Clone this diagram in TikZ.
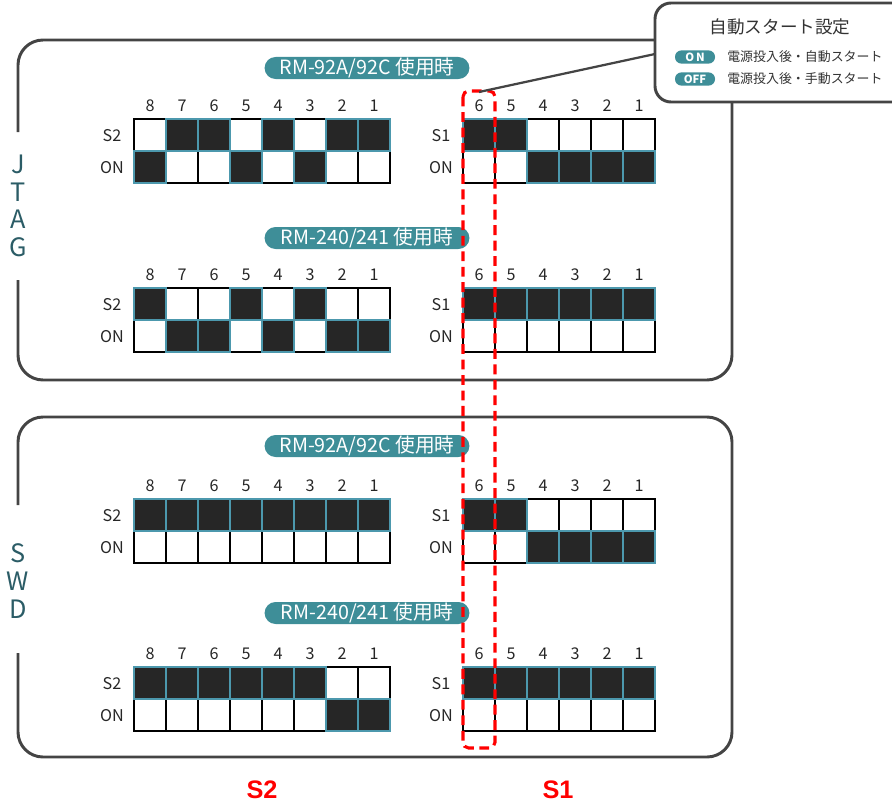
\documentclass[tikz,border=0pt]{standalone}
\usepackage{fontspec}
\setmainfont{Noto Sans CJK JP}
\newfontfamily\swfont{Liberation Sans}

\definecolor{pillteal}{HTML}{3E8E98}
\definecolor{celledge}{HTML}{4C98AD}
\definecolor{cellfill}{HTML}{262626}
\definecolor{frame}{HTML}{444444}
\definecolor{ifteal}{HTML}{2B5C66}

\tikzset{
  pill/.style={fill=pillteal, text=white, rounded corners=0.275cm,
    minimum width=5.12cm, minimum height=0.55cm, inner sep=0pt,
    font=\fontsize{14}{15}\selectfont},
  minipill/.style={fill=pillteal, text=white, rounded corners=0.16cm,
    minimum width=1cm, minimum height=0.33cm, inner sep=0pt,
    font=\fontsize{8}{9}\selectfont\bfseries},
  swnum/.style={text=black!85, font=\fontsize{11.5}{13}\selectfont},
  lightcell/.style={draw=black, line width=1.6pt, fill=white},
  darkcell/.style={draw=celledge, line width=1.6pt, fill=cellfill},
  group/.style={draw=frame, line width=2.1pt, rounded corners=0.625cm},
  iflabel/.style={text=ifteal, align=center, font=\fontsize{18}{19.7}\selectfont},
  sellabel/.style={text=red, font=\swfont\bfseries\fontsize{18}{20}\selectfont}
}

% one DIP switch: name, left x, top y, count, row label, states (1 = upper cell dark)
\newcommand{\dipsw}[6]{%
  \node[swnum] (#1-s) at ({#2-22},{#3+17}) {#5};
  \node[swnum] (#1-on) at ({#2-22},{#3+49}) {ON};
  \foreach \st [count=\i] in {#6} {
    \pgfmathtruncatemacro{\num}{#4+1-\i}
    \node[swnum] (#1-n\num) at ({#2+(\i-0.5)*32},{#3-13}) {\num};
    \ifnum\st=1
      \draw[lightcell] ({#2+(\i-1)*32},{#3+32}) rectangle ++(32,32);
    \else
      \draw[lightcell] ({#2+(\i-1)*32},#3) rectangle ++(32,32);
    \fi
  }
  \foreach \st [count=\i] in {#6} {
    \ifnum\st=1
      \draw[darkcell] ({#2+(\i-1)*32},#3) rectangle ++(32,32);
    \else
      \draw[darkcell] ({#2+(\i-1)*32},{#3+32}) rectangle ++(32,32);
    \fi
  }
}

\begin{document}
\begin{tikzpicture}[x=0.025cm, y=-0.025cm]
  \useasboundingbox (0,0) rectangle (892,802);

  % JTAG and SWD frames, open on the left for the labels
  \draw[group] (18,132) -- (18,40) -- (732,40) -- (732,380) -- (18,380) -- (18,280);
  \draw[group] (18,505) -- (18,417) -- (732,417) -- (732,757) -- (18,757) -- (18,653);
  \node[iflabel] (jtag) at (18,206) {J\\T\\A\\G};
  \node[iflabel] (swd) at (18,581) {S\\W\\D};

  % JTAG
  \node[pill] (jtag-a) at (367,68) {RM-92A/92C 使用時};
  \dipsw{ja2}{134}{119}{8}{S2}{0,1,1,0,1,0,1,1}
  \dipsw{ja1}{463}{119}{6}{S1}{1,1,0,0,0,0}

  \node[pill] (jtag-b) at (367,238) {RM-240/241 使用時};
  \dipsw{jb2}{134}{288}{8}{S2}{1,0,0,1,0,1,0,0}
  \dipsw{jb1}{463}{288}{6}{S1}{1,1,1,1,1,1}

  % SWD
  \node[pill] (swd-a) at (367,446) {RM-92A/92C 使用時};
  \dipsw{sa2}{134}{499}{8}{S2}{1,1,1,1,1,1,1,1}
  \dipsw{sa1}{463}{499}{6}{S1}{1,1,0,0,0,0}

  \node[pill] (swd-b) at (367,613) {RM-240/241 使用時};
  \dipsw{sb2}{134}{667}{8}{S2}{1,1,1,1,1,1,0,0}
  \dipsw{sb1}{463}{667}{6}{S1}{1,1,1,1,1,1}

  % switch 6 of S1
  \draw[red, line width=2.2pt, dash pattern=on 7pt off 4pt, rounded corners=4pt]
    (463,91) rectangle (495,748);
  \coordinate (six) at (479,92);
  \coordinate (note-w) at (655,54);
  \draw[frame, line width=1.6pt] (six) -- (note-w);

  % auto start note
  \draw[group, fill=white, rounded corners=0.4cm] (655,3) rectangle (912,102);
  \node[font=\fontsize{12.5}{14}\selectfont, text=black!80] (note) at (780,27) {自動スタート設定};
  \node[minipill] (on) at (695,57) {O\,N};
  \node[minipill] (off) at (695,79) {OFF};
  \node[anchor=west, inner sep=0pt, font=\fontsize{9.2}{11}\selectfont, text=black!80]
    (on-txt) at (727,57) {電源投入後・自動スタート};
  \node[anchor=west, inner sep=0pt, font=\fontsize{9.2}{11}\selectfont, text=black!80]
    (off-txt) at (727,79) {電源投入後・手動スタート};

  \node[sellabel] (s2) at (262,790) {S2};
  \node[sellabel] (s1) at (558,790) {S1};
\end{tikzpicture}
\end{document}
